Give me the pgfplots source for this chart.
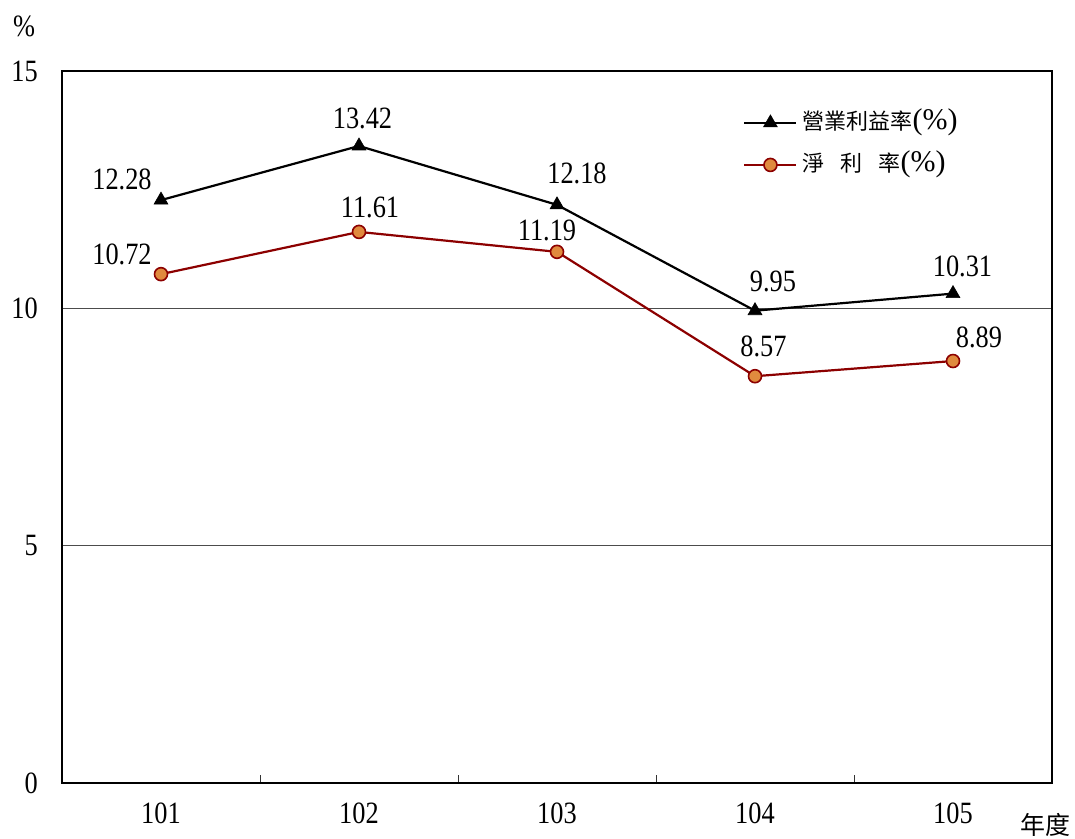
\documentclass[border=0pt]{standalone}
\usepackage{fontspec}
\setmainfont{Liberation Serif}[FakeStretch=0.85]
\newfontfamily\cjk{Noto Sans CJK TC}
\newfontfamily\pct{Liberation Serif}
\usepackage{pgfplots}
\pgfplotsset{compat=1.18}
\usepackage{pgfplotstable}

\definecolor{netred}{RGB}{140,0,0}
\definecolor{netfill}{RGB}{224,138,62}

% year, value, label offset (dx, dy)
\pgfplotstableread{
year val dx dy
101 12.28 -39 21
102 13.42 3.5 28
103 12.18 20 31
104 9.95 18 29
105 10.31 9.5 27
}\opmargin
\pgfplotstableread{
year val dx dy
101 10.72 -39 19.5
102 11.61 11 24
103 11.19 -10 21
104 8.57 8.5 29.5
105 8.89 26 24
}\netmargin

\begin{document}
\begin{tikzpicture}
\begin{axis}[
  name=ax,
  scale only axis, width=990pt, height=712pt,
  xmin=100.5, xmax=105.5, ymin=0, ymax=15,
  xtick={101,...,105}, xticklabels={101,102,103,104,105},
  minor xtick={101.5,102.5,103.5,104.5},
  ytick={0,5,10,15},
  ymajorgrids, grid style={line width=1.1pt, black!70},
  major tick length=0pt, minor tick length=8pt,
  tick align=inside, tick pos=left,
  minor tick style={line width=1pt, black!80},
  axis line style={line width=2.8pt},
  /pgf/number format/assume math mode=true,
  tick label style={font=\fontsize{31}{36}\selectfont},
  yticklabel style={anchor=east, inner sep=0pt, xshift=-24pt},
  xticklabel style={anchor=north, inner sep=0pt, yshift=-20pt},
  legend image code/.code={\draw[mark repeat=2,mark phase=2,#1] plot coordinates {(0pt,0pt) (26pt,0pt) (52pt,0pt)};},
  legend style={draw=none, fill=none, at={(0.688,0.947)}, anchor=north west,
    inner sep=0pt, column sep=5pt, row sep=14pt,
    nodes={inner sep=0pt, text height=21pt, text depth=7pt},
    font=\fontsize{22}{26}\selectfont},
  legend cell align=left,
  nodes near coords={\pgfmathprintnumber[fixed,precision=2,fixed zerofill]{\pgfplotspointmeta}},
  point meta=y,
  visualization depends on={\thisrow{dx}\as\dx},
  visualization depends on={\thisrow{dy}\as\dy},
  every node near coord/.append style={anchor=center, inner sep=0pt,
    xshift=\dx pt, yshift=\dy pt, text=black, font=\fontsize{31}{36}\selectfont},
]
\addplot[black, line width=2.2pt, mark=triangle*, mark size=8pt,
  mark options={solid, fill=black, line width=0.6pt}]
  table[x=year, y=val]{\opmargin};
\addlegendentry{{\cjk 營業利益率}{\fontsize{30}{30}\selectfont\pct(\%)}}
\addplot[netred, line width=2.2pt, mark=*, mark size=6.5pt,
  mark options={solid, fill=netfill, draw=netred, line width=1.6pt}]
  table[x=year, y=val]{\netmargin};
\addlegendentry{{\cjk 淨\hspace{16pt}利\hspace{16pt}率}{\fontsize{30}{30}\selectfont\pct(\%)}}
\end{axis}
\node[inner sep=0pt, font=\fontsize{31}{36}\selectfont] at ([xshift=-38pt,yshift=45pt]ax.north west) {\%};
\node[inner sep=0pt, font=\cjk\fontsize{25}{30}\selectfont] at ([xshift=-7pt,yshift=-42pt]ax.south east) {年度};
\pgfresetboundingbox
\path ([xshift=-62pt,yshift=-55pt]ax.south west) rectangle ([xshift=23pt,yshift=71pt]ax.north east);
\end{tikzpicture}
\end{document}
